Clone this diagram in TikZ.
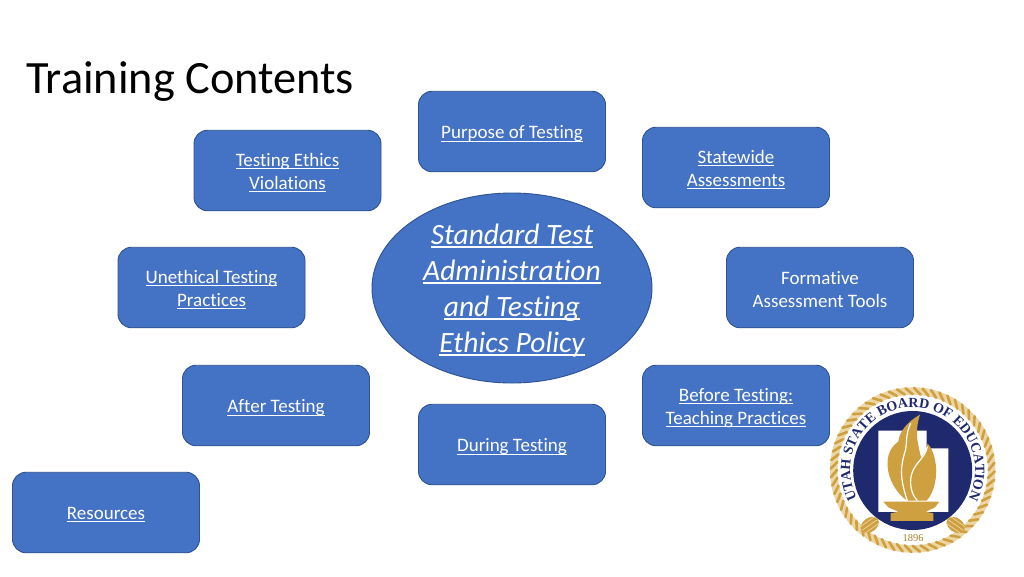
\documentclass[tikz,border=0pt]{standalone}
\usepackage{fontspec}
\setmainfont{Carlito}[Ligatures=NoCommon]
\newfontfamily\sealfont{Liberation Serif}
\usetikzlibrary{decorations.text,shapes.geometric}
\definecolor{boxfill}{HTML}{4472C4}
\definecolor{boxline}{HTML}{2F528F}
\definecolor{navy}{HTML}{1F2A6E}
\definecolor{gold}{HTML}{CFA040}
\definecolor{golddark}{HTML}{A9802C}
\definecolor{goldlight}{HTML}{EBD6A4}
\newlength{\ulwd}
\newcommand{\ulined}[2][1pt]{\settowidth{\ulwd}{#2}\leavevmode\rlap{\rule[-2.8pt]{\ulwd}{#1}}#2}
\tikzset{
  infobox/.style={draw=boxline,line width=0.9pt,fill=boxfill,rounded corners=13.5pt,
    minimum width=187pt,minimum height=80.5pt,inner sep=0pt},
  boxtext/.style={text=white,align=center,inner sep=0pt,yshift=-2.3pt,
    font=\fontsize{19}{23}\selectfont},
  hub/.style={ellipse,draw=boxline,line width=0.9pt,fill=boxfill,minimum width=280pt,
    minimum height=190pt,inner sep=0pt},
  hubtext/.style={text=white,align=center,inner sep=0pt,yshift=-3pt,
    font=\itshape\fontsize{29.5}{36}\selectfont},
  heading/.style={anchor=base west,inner sep=0pt,text=black,font=\fontsize{46.3}{50}\selectfont}
}
\begin{document}
\begin{tikzpicture}[x=1pt,y=-1pt]
\useasboundingbox (0,0) rectangle (1024,576);
\fill[white] (0,0) rectangle (1024,576);
\node[heading] (title) at (26,93) {Training Contents};
\node[infobox] (purpose) at (512,131.5) {};
\node[boxtext] (purposeT) at (purpose) {\ulined{Purpose of Testing}};
\node[infobox] (statewide) at (736,167.5) {};
\node[boxtext] (statewideT) at (statewide) {\ulined{Statewide}\\\ulined{Assessments}};
\node[infobox] (violations) at (287.5,170.5) {};
\node[boxtext] (violationsT) at (violations) {\ulined{Testing Ethics}\\\ulined{Violations}};
\node[infobox] (unethical) at (211.5,287.5) {};
\node[boxtext] (unethicalT) at (unethical) {\ulined{Unethical Testing}\\\ulined{Practices}};
\node[infobox] (formative) at (820,287.5) {};
\node[boxtext] (formativeT) at (formative) {Formative\\Assessment Tools};
\node[infobox] (after) at (276,405.5) {};
\node[boxtext] (afterT) at (after) {\ulined{After Testing}};
\node[infobox] (before) at (736,405.5) {};
\node[boxtext] (beforeT) at (before) {\ulined{Before Testing:}\\\ulined{Teaching Practices}};
\node[infobox] (during) at (512,444.5) {};
\node[boxtext] (duringT) at (during) {\ulined{During Testing}};
\node[infobox] (resources) at (106,512.5) {};
\node[boxtext] (resourcesT) at (resources) {\ulined{Resources}};
\node[hub] (policy) at (512,288) {};
\node[hubtext] (policyT) at (policy) {\ulined[1.2pt]{Standard Test}\\\ulined[1.2pt]{Administration}\\\ulined[1.2pt]{and Testing}\\\ulined[1.2pt]{Ethics Policy}};
% seal
\begin{scope}[shift={(912.7,470)},x=1pt,y=1pt]
  \fill[white] (0,0) circle (83);
  \draw[goldlight,line width=7.5pt] (0,0) circle (79);
  \foreach \a in {0,6,...,354}{
    \draw[gold,line width=2.6pt,line cap=round] (\a:75.8) -- (\a+5:82);
  }
  \fill[navy] (0,-0.5) circle (59.5);
  \path[decorate,decoration={text along path,text align=center,
     text={|\sealfont\bfseries\fontsize{14}{15}\selectfont\color{navy}|UTAH STATE BOARD OF EDUCATION}}]
     (208:62.5) arc[start angle=208,end angle=-28,radius=62.5];
  \foreach \s in {-1,1}{
    \fill[gold] (\s*43,-55) ellipse[x radius=10,y radius=7,rotate=-\s*35];
    \foreach \d in {-4,0,4}{
      \draw[goldlight,line width=0.7pt,rotate around={-\s*35:(\s*43,-55)}] (\s*43-9,-55+\d) -- (\s*43+9,-55+\d);
    }
  }
\end{scope}
\begin{scope}[shift={(820,380)},x=0.3333pt,y=-0.3333pt]
  \fill[white] (175,152) -- (320,152) -- (320,205) -- (385,205) -- (385,396) -- (175,396) -- cycle;
  \fill[gold] (300,104) .. controls (262,125) and (238,155) .. (235,185)
     .. controls (205,205) and (198,240) .. (205,275)
     .. controls (212,310) and (235,345) .. (262,362)
     -- (320,362) .. controls (345,335) and (355,280) .. (345,240)
     .. controls (340,215) and (332,200) .. (322,190)
     .. controls (322,215) and (310,225) .. (303,232)
     .. controls (295,195) and (282,160) .. (300,104) -- cycle;
  \draw[white,line width=1.2pt] (272,130) .. controls (255,165) and (262,195) .. (255,215)
     .. controls (245,250) and (235,285) .. (262,362);
  \draw[white,line width=1.2pt] (322,200) .. controls (315,240) and (275,250) .. (272,300)
     .. controls (270,325) and (280,350) .. (292,362);
  \fill[gold] (190,365) -- (358,365) -- (345,382) -- (318,395) -- (340,400) -- (340,423)
     -- (212,423) -- (212,400) -- (235,395) -- (205,382) -- cycle;
\end{scope}
\node[inner sep=0pt,text=golddark,font=\sealfont\fontsize{10.5}{11}\selectfont] (year) at (913,538) {1896};
\end{tikzpicture}
\end{document}
